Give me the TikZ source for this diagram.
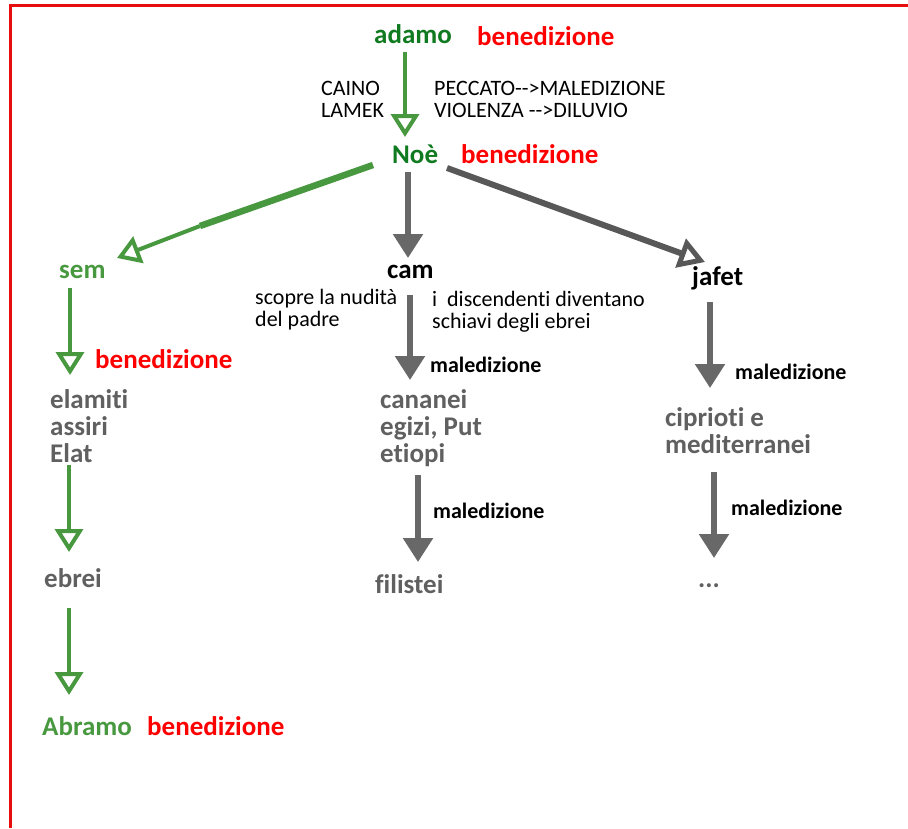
\documentclass[tikz,border=0pt]{standalone}
\usepackage{fontspec}
\setmainfont{Carlito}[Ligatures={TeX,NoCommon}]
\usetikzlibrary{arrows.meta}
\definecolor{dgreen}{RGB}{16,122,32}
\definecolor{lgreen}{RGB}{72,152,64}
\definecolor{bred}{RGB}{255,0,0}
\definecolor{tgray}{RGB}{96,96,96}
\definecolor{agray}{RGB}{104,104,104}
\definecolor{jgray}{RGB}{88,88,88}
\tikzset{>={Triangle[width=29pt,length=24pt]}}
\tikzstyle{big} = [font=\fontsize{27}{27}\selectfont\bfseries, inner sep=0, anchor=base west, align=left]
\tikzstyle{small} = [font=\fontsize{22}{22}\selectfont, inner sep=0, anchor=base west, align=left]
\tikzstyle{curse} = [font=\fontsize{22}{22}\selectfont\bfseries, inner sep=0, anchor=base west]
\tikzstyle{blessed} = [-{Triangle[open,width=28pt,length=23pt,line width=4pt]}, lgreen, line width=4]
\tikzstyle{cursed} = [->, agray, line width=5.5]

\begin{document}
\begin{tikzpicture}[x=1pt,y=-1pt]
		\useasboundingbox (0,0) rectangle (908,828);
		% Frame
		\draw[bred!90!black!95, line width=3] (10,828) -- (10,5.5) -- (908,5.5);
		
		% Names (multi-line nodes sit on their last line)
		\node[big, dgreen] (adamo) at (374,43) {adamo};
		\node[big, bred] (bened1) at (477,45) {benedizione};
		\node[small] (caino) at (321,117) {CAINO\\LAMEK};
		\node[small] (peccato) at (434,117) {PECCATO-{}->MALEDIZIONE\\VIOLENZA -{}->DILUVIO};
		\node[big, dgreen] (noe) at (392,163) {Noè};
		\node[big, bred] (bened2) at (461,163) {benedizione};
		%% Sem
		\node[big, lgreen] (sem) at (59,278) {sem};
		\node[big, bred] (bened3) at (95,368) {benedizione};
		\node[big, tgray] (elamiti) at (50,462) {elamiti\\assiri\\Elat};
		\node[big, tgray] (ebrei) at (44,587) {ebrei};
		\node[big, lgreen] (abramo) at (42,735) {Abramo};
		\node[big, bred] (bened4) at (147,735) {benedizione};
		%% Cam
		\node[big] (cam) at (387,278) {cam};
		\node[small] (nudita) at (255,326) {scopre la nudità\\del padre};
		\node[small] (schiavi) at (432,328) {i\ \ discendenti diventano\\schiavi degli ebrei};
		\node[curse] (male1) at (430,372) {maledizione};
		\node[big, tgray] (cananei) at (380,462) {cananei\\egizi, Put\\etiopi};
		\node[curse] (male2) at (433,518) {maledizione};
		\node[big, tgray] (filistei) at (375,593) {filistei};
		%% Jafet
		\node[big] (jafet) at (692,285) {jafet};
		\node[curse] (male3) at (735,379) {maledizione};
		\node[big, tgray] (ciprioti) at (665,453) {ciprioti e\\mediterranei};
		\node[curse] (male4) at (731,515) {maledizione};
		\node[big, tgray] (dots) at (698,587) {...};
		
		% Coordinates
		\coordinate (semjoin) at (200,226);
		
		% Arrows
		\draw[blessed] ([xshift=31pt,yshift=-9pt]adamo.base west) -- ([xshift=13pt,yshift=26pt]noe.base west);
		\draw[lgreen, line width=6.5] ([xshift=-19pt,yshift=-2pt]noe.base west) -- (semjoin);
		\draw[blessed] (semjoin) -- ([xshift=58pt,yshift=20pt]sem.base west);
		\draw[cursed] ([xshift=16pt,yshift=-9pt]noe.base west) -- ([xshift=21pt,yshift=20pt]cam.base west);
		\draw[jgray, line width=6, -{Triangle[open,width=30pt,length=26pt,line width=5pt]}] ([xshift=55pt,yshift=-5pt]noe.base west) -- ([xshift=13pt,yshift=23pt]jafet.base west);
		%% Sem
		\draw[blessed] ([xshift=11pt,yshift=-10pt]sem.base west) -- ([xshift=20pt,yshift=87pt]elamiti.base west);
		\draw[blessed] ([xshift=19pt,yshift=-3pt]elamiti.base west) -- ([xshift=25pt,yshift=35pt]ebrei.base west);
		\draw[blessed] ([xshift=25pt,yshift=-21pt]ebrei.base west) -- ([xshift=27pt,yshift=40pt]abramo.base west);
		%% Cam
		\draw[cursed] ([xshift=23pt,yshift=-17pt]cam.base west) -- ([xshift=30pt,yshift=82pt]cananei.base west);
		\draw[cursed] ([xshift=38pt,yshift=-13pt]cananei.base west) -- ([xshift=43pt,yshift=31pt]filistei.base west);
		%% Jafet
		\draw[cursed] ([xshift=18pt,yshift=-17pt]jafet.base west) -- ([xshift=45pt,yshift=65pt]ciprioti.base west);
		\draw[cursed] ([xshift=49pt,yshift=-19pt]ciprioti.base west) -- ([xshift=16pt,yshift=29pt]dots.base west);
	\end{tikzpicture}
\end{document}
